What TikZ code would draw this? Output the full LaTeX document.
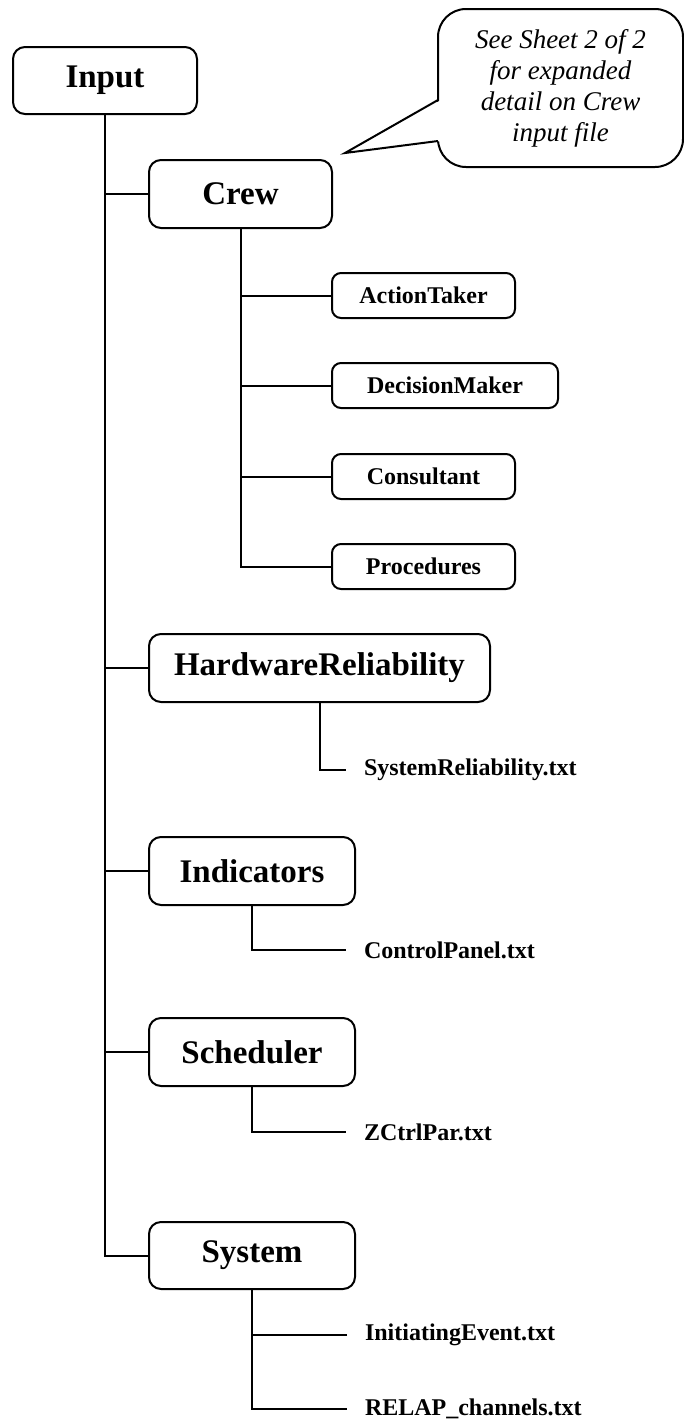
\documentclass[tikz,border=0pt]{standalone}
\usepackage{fontspec}
\setmainfont{Liberation Serif}
\begin{document}
\begin{tikzpicture}[x=1pt,y=-1pt, line width=2pt,
 bigbox/.style={draw, rounded corners=12pt, font=\fontsize{33}{36}\selectfont\bfseries, inner sep=0pt, minimum height=68pt},
 smallbox/.style={draw, rounded corners=9pt, font=\fontsize{24}{28}\selectfont\bfseries, inner sep=0pt, minimum height=45pt},
 leaf/.style={anchor=west, inner xsep=17pt, inner ysep=0pt, font=\fontsize{24}{28}\selectfont\bfseries},
 note/.style={draw, rounded corners=28pt, align=center, font=\fontsize{27}{31}\selectfont\itshape, minimum width=245pt, minimum height=158pt, inner sep=0pt}]
\useasboundingbox (0,0) rectangle (684,1422);

\node[bigbox, minimum width=184pt, minimum height=67pt] (input) at (105,80.5) {Input};
\node[bigbox, minimum width=183pt] (crew) at (240.5,194) {Crew};
\node[smallbox, minimum width=183pt] (at) at (423.5,295.5) {ActionTaker};
\node[smallbox, minimum width=226pt] (dm) at (445,385.5) {DecisionMaker};
\node[smallbox, minimum width=183pt] (con) at (423.5,476.5) {Consultant};
\node[smallbox, minimum width=183pt] (proc) at (423.5,566.5) {Procedures};
\node[bigbox, minimum width=341pt] (hr) at (319.5,668) {HardwareReliability};
\node[leaf] (srel) at (346,770) {SystemReliability.txt};
\node[bigbox, minimum width=206pt] (ind) at (252,871) {Indicators};
\node[leaf] (cp) at (346,950) {ControlPanel.txt};
\node[bigbox, minimum width=206pt] (sch) at (252,1052) {Scheduler};
\node[leaf] (zc) at (346,1132) {ZCtrlPar.txt};
\node[bigbox, minimum width=206pt, minimum height=67pt] (sys) at (252,1255.5) {System};
\node[leaf] (ie) at (347,1335) {InitiatingEvent.txt};
\node[leaf] (rc) at (347,1409) {RELAP\_channels.txt};

\draw (input.south) |- (sys.west);
\foreach \n in {crew,hr,ind,sch} \draw (\n.west) -- (\n.west -| input.south);
\draw (crew.south) |- (proc.west);
\foreach \n in {at,dm,con} \draw (\n.west) -- (\n.west -| crew.south);
\draw (hr.south) |- (srel.west);
\draw (ind.south) |- (cp.west);
\draw (sch.south) |- (zc.west);
\draw (sys.south) |- (rc.west);
\draw (ie.west) -- (ie.west -| sys.south);

\node[note] (note) at (560.5,88) {See Sheet 2 of 2\\for expanded\\detail on Crew\\input file};
\coordinate (tip) at (345,153);
\coordinate (pa) at (438,100);
\coordinate (pb) at (438,141);
\fill[white] (441,100) -- (tip) -- (441,141) -- cycle;
\draw[line join=miter] (pa) -- (tip) -- (pb);
\end{tikzpicture}
\end{document}
